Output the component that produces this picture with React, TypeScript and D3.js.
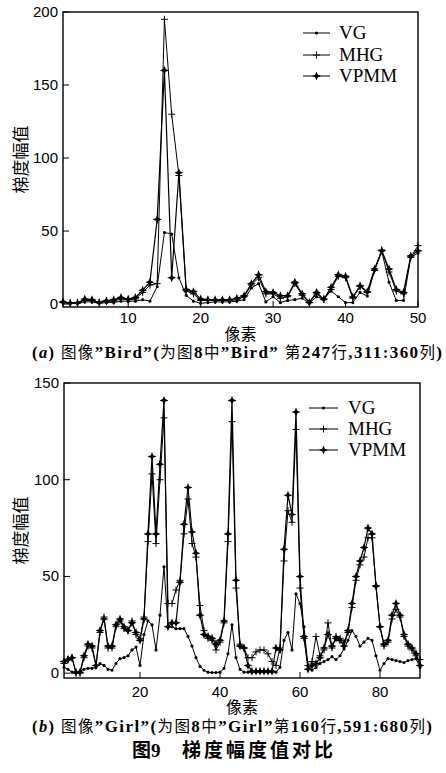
import { useEffect, useRef } from 'react';
import * as d3 from 'd3';

// Gradient magnitude along one image row, pixel index 1..n on x
const BIRD_VG = [1, 0.5, 0.5, 1.5, 1.5, 0.5, 1, 1, 2, 2,
  2, 3, 2, 12, 49, 48, 18, 6, 2, 0.5,
  1, 1.5, 1.5, 1.5, 2, 3, 11, 14, 1.5, 5,
  1, 2.5, 3, 4, 0.5, 5, 3.5, 9, 5, 1,
  1, 8, 5.5, 23, 36, 15, 2.5, 2.5, 32, 35];
const BIRD_MHG = [1, 0.5, 1, 2.5, 2.5, 1, 2, 2, 3.5, 3,
  3.5, 8, 13, 14, 195, 130, 88, 9, 7, 2.5,
  2.5, 2.5, 2.5, 2.5, 3, 5, 13, 18, 7, 7,
  4, 5, 14, 6, 1, 7, 3, 10, 19, 18,
  4, 12, 8, 23, 37, 22, 9, 7, 32, 40];
const BIRD_VPMM = [1.5, 0.7, 0.7, 3.4, 3, 1.1, 2.3, 3, 4.5, 3.5,
  4.5, 9.5, 15, 58, 160, 18, 90, 10, 8.5, 3.4,
  3, 3, 3, 3, 4, 5.7, 14, 20, 8.5, 8,
  5.7, 5.7, 15, 7, 1.1, 8, 3.4, 11.5, 20, 19,
  4.8, 12.5, 8.4, 24, 36.5, 24, 10, 8, 33, 36.5];

const GIRL_VG = [3, 2, 0.5, 0.5, 1, 2, 2.5, 2.5, 3, 5,
  4, 2, 1.5, 5, 7.5, 8, 9, 12, 13.5, 4,
  20, 27, 25, 12, 30, 55, 24, 24, 23, 23,
  23, 19, 14, 8, 3.5, 1.5, 0.5, 0.3, 0.3, 0.5,
  2.5, 10, 25, 8, 2, 0.5, 0.5, 0.5, 0.5, 0.5,
  0.5, 0.5, 0.5, 0.5, 3, 17, 21, 12, 41, 36,
  24, 3.5, 1.5, 3, 5, 6, 7, 8.5, 7, 9,
  12.5, 17, 22, 19, 14, 16, 18, 17, 9, 1.5,
  5, 7.5, 7, 6.5, 6, 5.5, 6.5, 7, 7.5, 3];
const GIRL_MHG = [5, 7, 8, 0, 0, 8, 14, 13, 4, 21,
  29, 13, 13, 24, 27, 23, 22, 27, 20, 18,
  29, 68, 103, 67, 100, 132, 36, 36, 43, 48,
  72, 90, 67, 60, 35, 22, 18, 17, 12, 16,
  26, 68, 130, 44, 15, 13, 8, 8, 11, 12,
  12, 10, 6, 4, 13, 58, 84, 78, 126, 44,
  18, 4, 6, 19, 9, 12, 26, 13, 19, 18,
  16, 21, 34, 48, 56, 60, 70, 70, 45, 24,
  14, 16, 28, 33, 29, 19, 14, 12, 9, 7];
const GIRL_VPMM = [6, 7, 8, 0.5, 0.5, 9, 15, 14, 4, 22,
  28, 14, 14, 25, 28, 24, 22, 26, 21, 17,
  28, 72, 112, 72, 108, 141, 24, 26, 26, 47,
  77, 96, 73, 62, 30, 20, 19, 18, 15, 17,
  27, 72, 141, 48, 14, 13, 4, 1, 1, 1,
  1, 1, 1, 13, 12, 64, 92, 82, 135, 50,
  19, 2, 4, 5, 8, 13, 20, 14, 18, 17,
  14, 22, 36, 50, 58, 65, 75, 72, 45, 24,
  15, 17, 30, 36, 30, 20, 15, 13, 10, 4];

const BIRD_X_TICKS = [10, 20, 30, 40, 50];
const BIRD_Y_TICKS = [0, 50, 100, 150, 200];
const GIRL_X_TICKS = [20, 40, 60, 80];
const GIRL_Y_TICKS = [0, 50, 100, 150];
const SERIES_NAMES = ['VG', 'MHG', 'VPMM'];

// caption pieces: [text, latin?]
const CAPTION_A = [['图像', false], ['”Bird”(', true], ['为图', false], ['8', true], ['中', false],
  ['”Bird” ', true], ['第', false], ['247', true], ['行', false], [',311:360', true], ['列', false], [')', true]];
const CAPTION_B = [['图像', false], ['”Girl”(', true], ['为图', false], ['8', true], ['中', false],
  ['”Girl”', true], ['第', false], ['160', true], ['行', false], [',591:680', true], ['列', false], [')', true]];

const SANS = "'Liberation Sans', Arial, sans-serif";
const SERIF = "'Liberation Serif', 'Times New Roman', serif";
const CJK = "'Noto Sans CJK SC', sans-serif";
const MIXED = "'Liberation Serif', 'Noto Sans CJK SC', serif";

// marker shapes: small dot, plus, filled four-point star
const MARKERS = {
  VG: { d: d3.symbol(d3.symbolCircle, 8)(), fill: '#000', stroke: 'none' },
  MHG: { d: 'M-3.5,0H3.5M0,-3.5V3.5', fill: 'none', stroke: '#000' },
  VPMM: { d: 'M0,-4.5L1.3,-1.3L4.5,0L1.3,1.3L0,4.5L-1.3,1.3L-4.5,0L-1.3,-1.3Z', fill: '#000', stroke: 'none' },
};

function drawPanel(svg, opt) {
  const { box } = opt;
  const x = d3.scaleLinear().domain(opt.xDomain).range([box.left, box.right]);
  const y = d3.scaleLinear().domain(opt.yDomain).range([box.bottom, box.top]);
  const g = svg.append('g');

  const seriesData = [opt.vg, opt.mhg, opt.vpmm];
  const line = d3.line().x((_, i) => x(i + 1)).y(d => y(d));

  seriesData.forEach((values, si) => {
    const name = SERIES_NAMES[si];
    g.append('path')
      .attr('d', line(values))
      .attr('fill', 'none')
      .attr('stroke', '#000')
      .attr('stroke-width', name === 'VPMM' ? 1.2 : 1)
      .attr('stroke-linejoin', 'round');
    g.selectAll(null)
      .data(values)
      .enter()
      .append('path')
      .attr('transform', (d, i) => `translate(${x(i + 1)},${y(d)})`)
      .attr('d', MARKERS[name].d)
      .attr('fill', MARKERS[name].fill)
      .attr('stroke', MARKERS[name].stroke)
      .attr('stroke-width', 1);
  });

  // axes box
  g.append('rect')
    .attr('x', box.left)
    .attr('y', box.top)
    .attr('width', box.right - box.left)
    .attr('height', box.bottom - box.top)
    .attr('fill', 'none')
    .attr('stroke', '#000')
    .attr('stroke-width', 1.4);

  // inward ticks
  opt.yTicks.forEach(t => {
    g.append('line')
      .attr('x1', box.left).attr('x2', box.left + 6)
      .attr('y1', y(t)).attr('y2', y(t))
      .attr('stroke', '#000').attr('stroke-width', 1);
    g.append('text')
      .attr('x', box.left - 5)
      .attr('y', y(t) + 5)
      .attr('text-anchor', 'end')
      .style('font-family', SANS)
      .style('font-size', '15px')
      .text(t);
  });
  opt.xTicks.forEach(t => {
    g.append('line')
      .attr('x1', x(t)).attr('x2', x(t))
      .attr('y1', box.bottom).attr('y2', box.bottom - 6)
      .attr('stroke', '#000').attr('stroke-width', 1);
    g.append('text')
      .attr('x', x(t))
      .attr('y', opt.tickLabelY)
      .attr('text-anchor', 'middle')
      .style('font-family', SANS)
      .style('font-size', '15px')
      .text(t);
  });

  // axis titles
  g.append('text')
    .attr('x', (box.left + box.right) / 2)
    .attr('y', opt.xLabelY)
    .attr('text-anchor', 'middle')
    .style('font-family', CJK)
    .style('font-size', '16px')
    .text('像素');
  g.append('text')
    .attr('transform', `translate(${opt.yLabelX},${(box.top + box.bottom) / 2}) rotate(-90)`)
    .attr('text-anchor', 'middle')
    .attr('dominant-baseline', 'central')
    .style('font-family', CJK)
    .style('font-size', '17px')
    .text('梯度幅值');

  // legend
  const lg = opt.legend;
  SERIES_NAMES.forEach((name, i) => {
    const ry = lg.rows[i];
    g.append('line')
      .attr('x1', lg.x0).attr('x2', lg.x1)
      .attr('y1', ry).attr('y2', ry)
      .attr('stroke', '#000').attr('stroke-width', 1);
    g.append('path')
      .attr('transform', `translate(${(lg.x0 + lg.x1) / 2},${ry})`)
      .attr('d', MARKERS[name].d)
      .attr('fill', MARKERS[name].fill)
      .attr('stroke', MARKERS[name].stroke);
    g.append('text')
      .attr('x', lg.textX)
      .attr('y', ry + 6)
      .style('font-family', SERIF)
      .style('font-size', '19px')
      .text(name);
  });
}

function caption(svg, yBase, letter, pieces, width) {
  const t = svg.append('text')
    .attr('x', 32)
    .attr('y', yBase)
    .attr('textLength', width)
    .attr('lengthAdjust', 'spacing')
    .style('font-family', MIXED)
    .style('font-size', '15.5px');
  t.append('tspan').style('font-weight', 'bold').style('font-size', '16.5px').text('(');
  t.append('tspan').style('font-weight', 'bold').style('font-style', 'italic').style('font-size', '16.5px').text(letter);
  t.append('tspan').style('font-weight', 'bold').style('font-size', '16.5px').text(') ');
  pieces.forEach(([s, latin]) => {
    t.append('tspan')
      .style('font-weight', latin ? 'bold' : 'normal')
      .style('font-size', latin ? '17px' : '15.5px')
      .text(s);
  });
}

export default function App() {
  const svgRef = useRef(null);

  useEffect(() => {
    const svg = d3.select(svgRef.current);
    svg.selectAll('*').remove();

    drawPanel(svg, {
      vg: BIRD_VG, mhg: BIRD_MHG, vpmm: BIRD_VPMM,
      xDomain: [1, 50], yDomain: [-2, 200],
      box: { left: 63, right: 418, top: 12, bottom: 307 },
      xTicks: BIRD_X_TICKS, yTicks: BIRD_Y_TICKS,
      tickLabelY: 323, xLabelY: 340, yLabelX: 19,
      legend: { x0: 303, x1: 330, textX: 339, rows: [33, 55, 76] },
    });
    drawPanel(svg, {
      vg: GIRL_VG, mhg: GIRL_MHG, vpmm: GIRL_VPMM,
      xDomain: [1, 90], yDomain: [-2.5, 150],
      box: { left: 64, right: 420, top: 383, bottom: 678 },
      xTicks: GIRL_X_TICKS, yTicks: GIRL_Y_TICKS,
      tickLabelY: 697, xLabelY: 713, yLabelX: 19,
      legend: { x0: 309, x1: 338, textX: 348, rows: [408, 429, 450] },
    });

    caption(svg, 358, 'a', CAPTION_A, 410);
    caption(svg, 732, 'b', CAPTION_B, 400);

    svg.append('text')
      .attr('x', 132)
      .attr('y', 757)
      .style('font-family', MIXED)
      .style('font-size', '19px')
      .style('font-weight', 'bold')
      .text('图9');
    svg.append('text')
      .attr('x', 182)
      .attr('y', 757)
      .attr('textLength', 151)
      .attr('lengthAdjust', 'spacing')
      .style('font-family', CJK)
      .style('font-size', '19px')
      .style('font-weight', 'bold')
      .text('梯度幅度值对比');
  }, []);

  return (
    <div style={{ position: 'absolute', left: 0, top: 0 }}>
      <svg ref={svgRef} width={446} height={773} style={{ display: 'block', background: '#fff' }} />
    </div>
  );
}
